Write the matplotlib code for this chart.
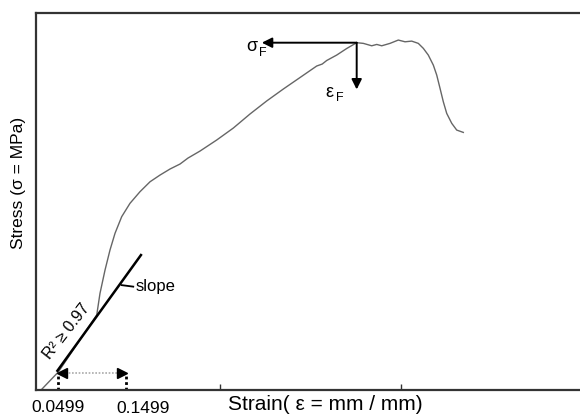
import numpy as np
import matplotlib.pyplot as plt

plt.rcParams['font.family'] = ['Liberation Sans', 'DejaVu Sans']

# stress-strain curve (strain mm/mm, stress MPa)
strain = [0.0245, 0.0499, 0.1064, 0.1112, 0.1186, 0.1259, 0.1333, 0.1431,
          0.1553, 0.1700, 0.1848, 0.1995, 0.2142, 0.2289, 0.2406, 0.2583,
          0.2828, 0.3073, 0.3318, 0.3564, 0.3808, 0.4053, 0.4299, 0.4380,
          0.4446, 0.4593, 0.4740, 0.4887, 0.4985, 0.5108, 0.5182, 0.5255,
          0.5377, 0.5499, 0.5598, 0.5696, 0.5793, 0.5867, 0.5940, 0.6014,
          0.6064, 0.6113, 0.6161, 0.6211, 0.6285, 0.6358, 0.6455]
stress = [0.0, 2.39, 9.94, 12.81, 15.90, 18.55, 20.77, 22.97,
          24.74, 26.28, 27.60, 28.49, 29.29, 29.95, 30.74, 31.67,
          33.13, 34.72, 36.58, 38.31, 39.89, 41.41, 42.94, 43.20,
          43.67, 44.39, 45.26, 46.03, 45.94, 45.62, 45.80, 45.62,
          45.94, 46.38, 46.15, 46.24, 45.94, 45.28, 44.39, 43.06,
          41.74, 39.97, 38.20, 36.66, 35.34, 34.45, 34.14]

# linear fit segment
slope_x = [0.0475, 0.1725]
slope_y = [2.42, 18.02]

fit_start = 0.0499
fit_end = 0.1499
fit_labels = ['0.0499', '0.1499']

fig = plt.figure(figsize=(5.8, 4.15), dpi=100)
ax = fig.add_axes([0.0629, 0.0602, 0.9371, 0.9091])

ax.plot(strain, stress, color='#666666', lw=1.0)
ax.plot(slope_x, slope_y, color='black', lw=1.8, solid_capstyle='butt')

# fracture point
i_peak = 27
eps_f = strain[i_peak]
sig_f = stress[i_peak]
head = '-|>,head_length=0.6,head_width=0.3'
ax.annotate('', xy=(eps_f - 0.1395, sig_f), xytext=(eps_f, sig_f),
            arrowprops=dict(arrowstyle=head, color='black', lw=1.4,
                            shrinkA=0, shrinkB=0))
ax.annotate('', xy=(eps_f, sig_f - 6.2), xytext=(eps_f, sig_f),
            arrowprops=dict(arrowstyle=head, color='black', lw=1.4,
                            shrinkA=0, shrinkB=0))
ax.text(eps_f - 0.1545, sig_f - 0.5, 'σ', fontsize=13, ha='center', va='center')
ax.text(eps_f - 0.1385, sig_f - 1.3, 'F', fontsize=9, ha='center', va='center')
ax.text(eps_f - 0.0395, sig_f - 6.6, 'ε', fontsize=13, ha='center', va='center')
ax.text(eps_f - 0.0250, sig_f - 7.3, 'F', fontsize=9, ha='center', va='center')

# fit range markers
y_arr = 2.25
ax.plot([fit_start, fit_start], [0, y_arr], color='black', lw=2, ls=(0, (1, 1)))
ax.plot([fit_end, fit_end], [0, y_arr], color='black', lw=2, ls=(0, (1, 1)))
ax.plot([fit_start + 0.006, fit_end - 0.006], [y_arr, y_arr], color='#aaaaaa',
        lw=1.2, ls=(0, (1, 1)))
ax.plot([fit_start + 0.006], [y_arr], marker='<', color='black', ms=7)
ax.plot([fit_end - 0.006], [y_arr], marker='>', color='black', ms=7)

for x, lab, dx, dy in zip([fit_start, fit_end], fit_labels, [0, 12], [-7, -8]):
    ax.annotate(lab, xy=(x, 0), xycoords='data', xytext=(dx, dy),
                textcoords='offset points', ha='center', va='top',
                fontsize=12.5, annotation_clip=False)

# slope label
ax.plot([0.1431, 0.1601], [13.9, 13.7], color='black', lw=1.3)
ax.text(0.1642, 13.78, 'slope', fontsize=12, ha='left', va='center')
ax.text(0.0623, 7.82, 'R² ≥ 0.97', fontsize=11.5, ha='center', va='center',
        rotation=52, rotation_mode='anchor')

ax.set_xlim(0.0178, 0.8171)
ax.set_ylim(0, 50)
ax.set_xticks([0.2877, 0.5539])
ax.set_xticklabels([])
ax.set_yticks([])
ax.tick_params(axis='x', direction='in', length=4, width=1, color='#333333')
ax.spines['right'].set_visible(False)
for s in ['left', 'top', 'bottom']:
    ax.spines[s].set_linewidth(1.6)
    ax.spines[s].set_color('#333333')

fig.text(325 / 580, 1 - 410 / 415, 'Strain( ε = mm / mm)', fontsize=15,
         ha='center', va='baseline')
fig.text(18.5 / 580, 1 - 183 / 415, 'Stress (σ = MPa)', fontsize=12.5,
         ha='center', va='center', rotation=90)

fig.savefig('out.png', dpi=100)
